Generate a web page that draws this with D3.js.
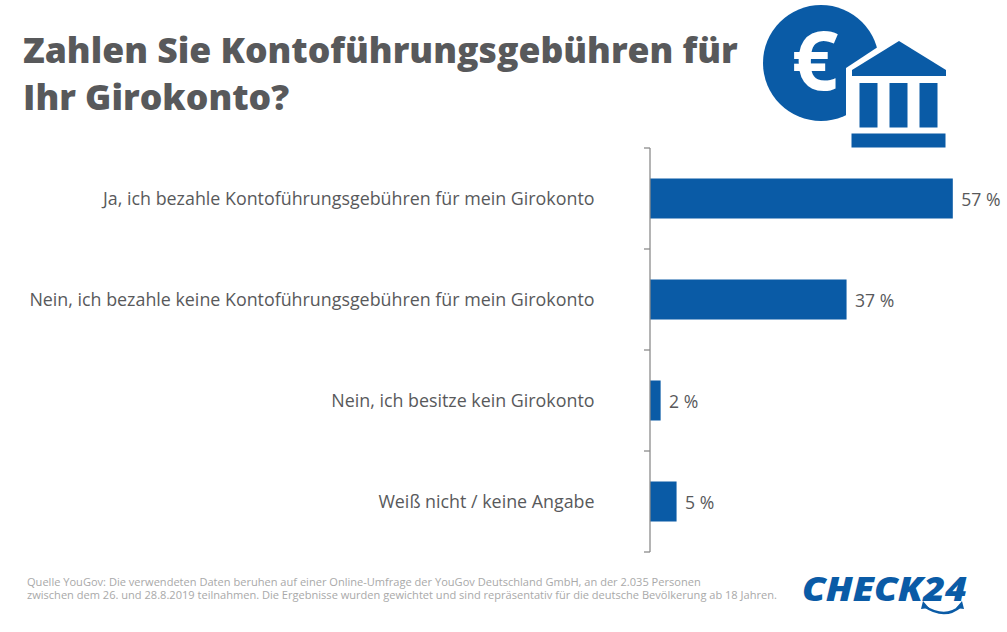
<!DOCTYPE html>
<html><head><meta charset="utf-8">
<script src="https://cdn.jsdelivr.net/npm/d3@7"></script>
<style>html,body{margin:0;padding:0;background:#fff}svg{display:block}text{font-family:"Open Sans",sans-serif}</style>
</head><body><svg id="c" width="1007" height="632"></svg>
<script>
const categories = ["Ja, ich bezahle Kontoführungsgebühren für mein Girokonto","Nein, ich bezahle keine Kontoführungsgebühren für mein Girokonto","Nein, ich besitze kein Girokonto","Weiß nicht / keine Angabe"];
const values = [57,37,2,5];
const titleLines = ["Zahlen Sie Kontoführungsgebühren für","Ihr Girokonto?"];
const sourceLines = ["Quelle YouGov: Die verwendeten Daten beruhen auf einer Online-Umfrage der YouGov Deutschland GmbH, an der 2.035 Personen","zwischen dem 26. und 28.8.2019 teilnahmen. Die Ergebnisse wurden gewichtet und sind repräsentativ für die deutsche Bevölkerung ab 18 Jahren."];
const blue="#0a5ba6", dark="#58595b", grey="#a9a9a9";
const svg=d3.select("#c");
const x=d3.scaleLinear().domain([0,57]).range([650,952.8]);
const y=d3.scaleBand().domain(categories).range([148,552]).paddingInner(0).paddingOuter(0);
const bh=40;
// title
svg.selectAll(".t").data(titleLines).join("text").attr("x",23).attr("y",(d,i)=>63+i*47)
 .attr("font-size",35.55).attr("font-weight",800).attr("fill",dark).text(d=>d);
// bars
svg.selectAll(".b").data(values).join("rect").attr("x",x(0)).attr("y",(d,i)=>y(categories[i])+y.bandwidth()/2-bh/2)
 .attr("width",d=>x(d)-x(0)).attr("height",bh).attr("fill",blue);
// axis
const ax=svg.append("g").attr("stroke","#8c8c8c").attr("stroke-width",1.3).attr("fill","none");
ax.append("line").attr("x1",650).attr("x2",650).attr("y1",148).attr("y2",552);
[0,1,2,3,4].forEach(i=>{const v=148+i*y.bandwidth();ax.append("line").attr("x1",644).attr("x2",650).attr("y1",v).attr("y2",v);});
// labels
svg.selectAll(".l").data(categories).join("text").attr("x",594.5).attr("y",d=>y(d)+y.bandwidth()/2+6.5).attr("text-anchor","end")
 .attr("font-size",17.85).attr("fill",dark).text(d=>d);
svg.selectAll(".v").data(values).join("text").attr("x",d=>x(d)+8.5).attr("y",(d,i)=>y(categories[i])+y.bandwidth()/2+7)
 .attr("font-size",17.6).attr("fill",dark).text(d=>d+" %");
// source
svg.selectAll(".s").data(sourceLines).join("text").attr("x",27).attr("y",(d,i)=>585.5+i*13.4)
 .attr("font-size",11.07).attr("fill",grey).text(d=>d);
// bank icon
const ic=svg.append("g");
ic.append("circle").attr("cx",821).attr("cy",63).attr("r",58).attr("fill",blue);
ic.append("text").attr("x",815).attr("y",90).attr("text-anchor","middle").attr("font-size",82).attr("font-weight",700).attr("fill","#fff").text("€");
ic.append("path").attr("d","M846 68L899 33L955 73V150H846Z").attr("fill","#fff");
ic.append("path").attr("d","M852 76V70L899 41L946 70V76Z").attr("fill",blue);
[859.5,889.5,919.5].forEach(v=>ic.append("rect").attr("x",v).attr("y",83).attr("width",18).attr("height",44.5).attr("fill",blue));
ic.append("rect").attr("x",851.5).attr("y",133.5).attr("width",94).attr("height",14).attr("fill",blue);
// logo
svg.append("text").attr("x",802).attr("y",601).attr("font-size",33).attr("font-weight",800).attr("font-style","italic")
 .attr("textLength",165).attr("lengthAdjust","spacingAndGlyphs").attr("fill",blue).text("CHECK24");
svg.append("path").attr("d","M924 606Q945 620 961 606").attr("fill","none").attr("stroke",blue).attr("stroke-width",2.5);
svg.append("path").attr("d","M923 601L921 609L929 608ZM962 601L964 609L956 608Z").attr("fill",blue);
</script></body></html>
